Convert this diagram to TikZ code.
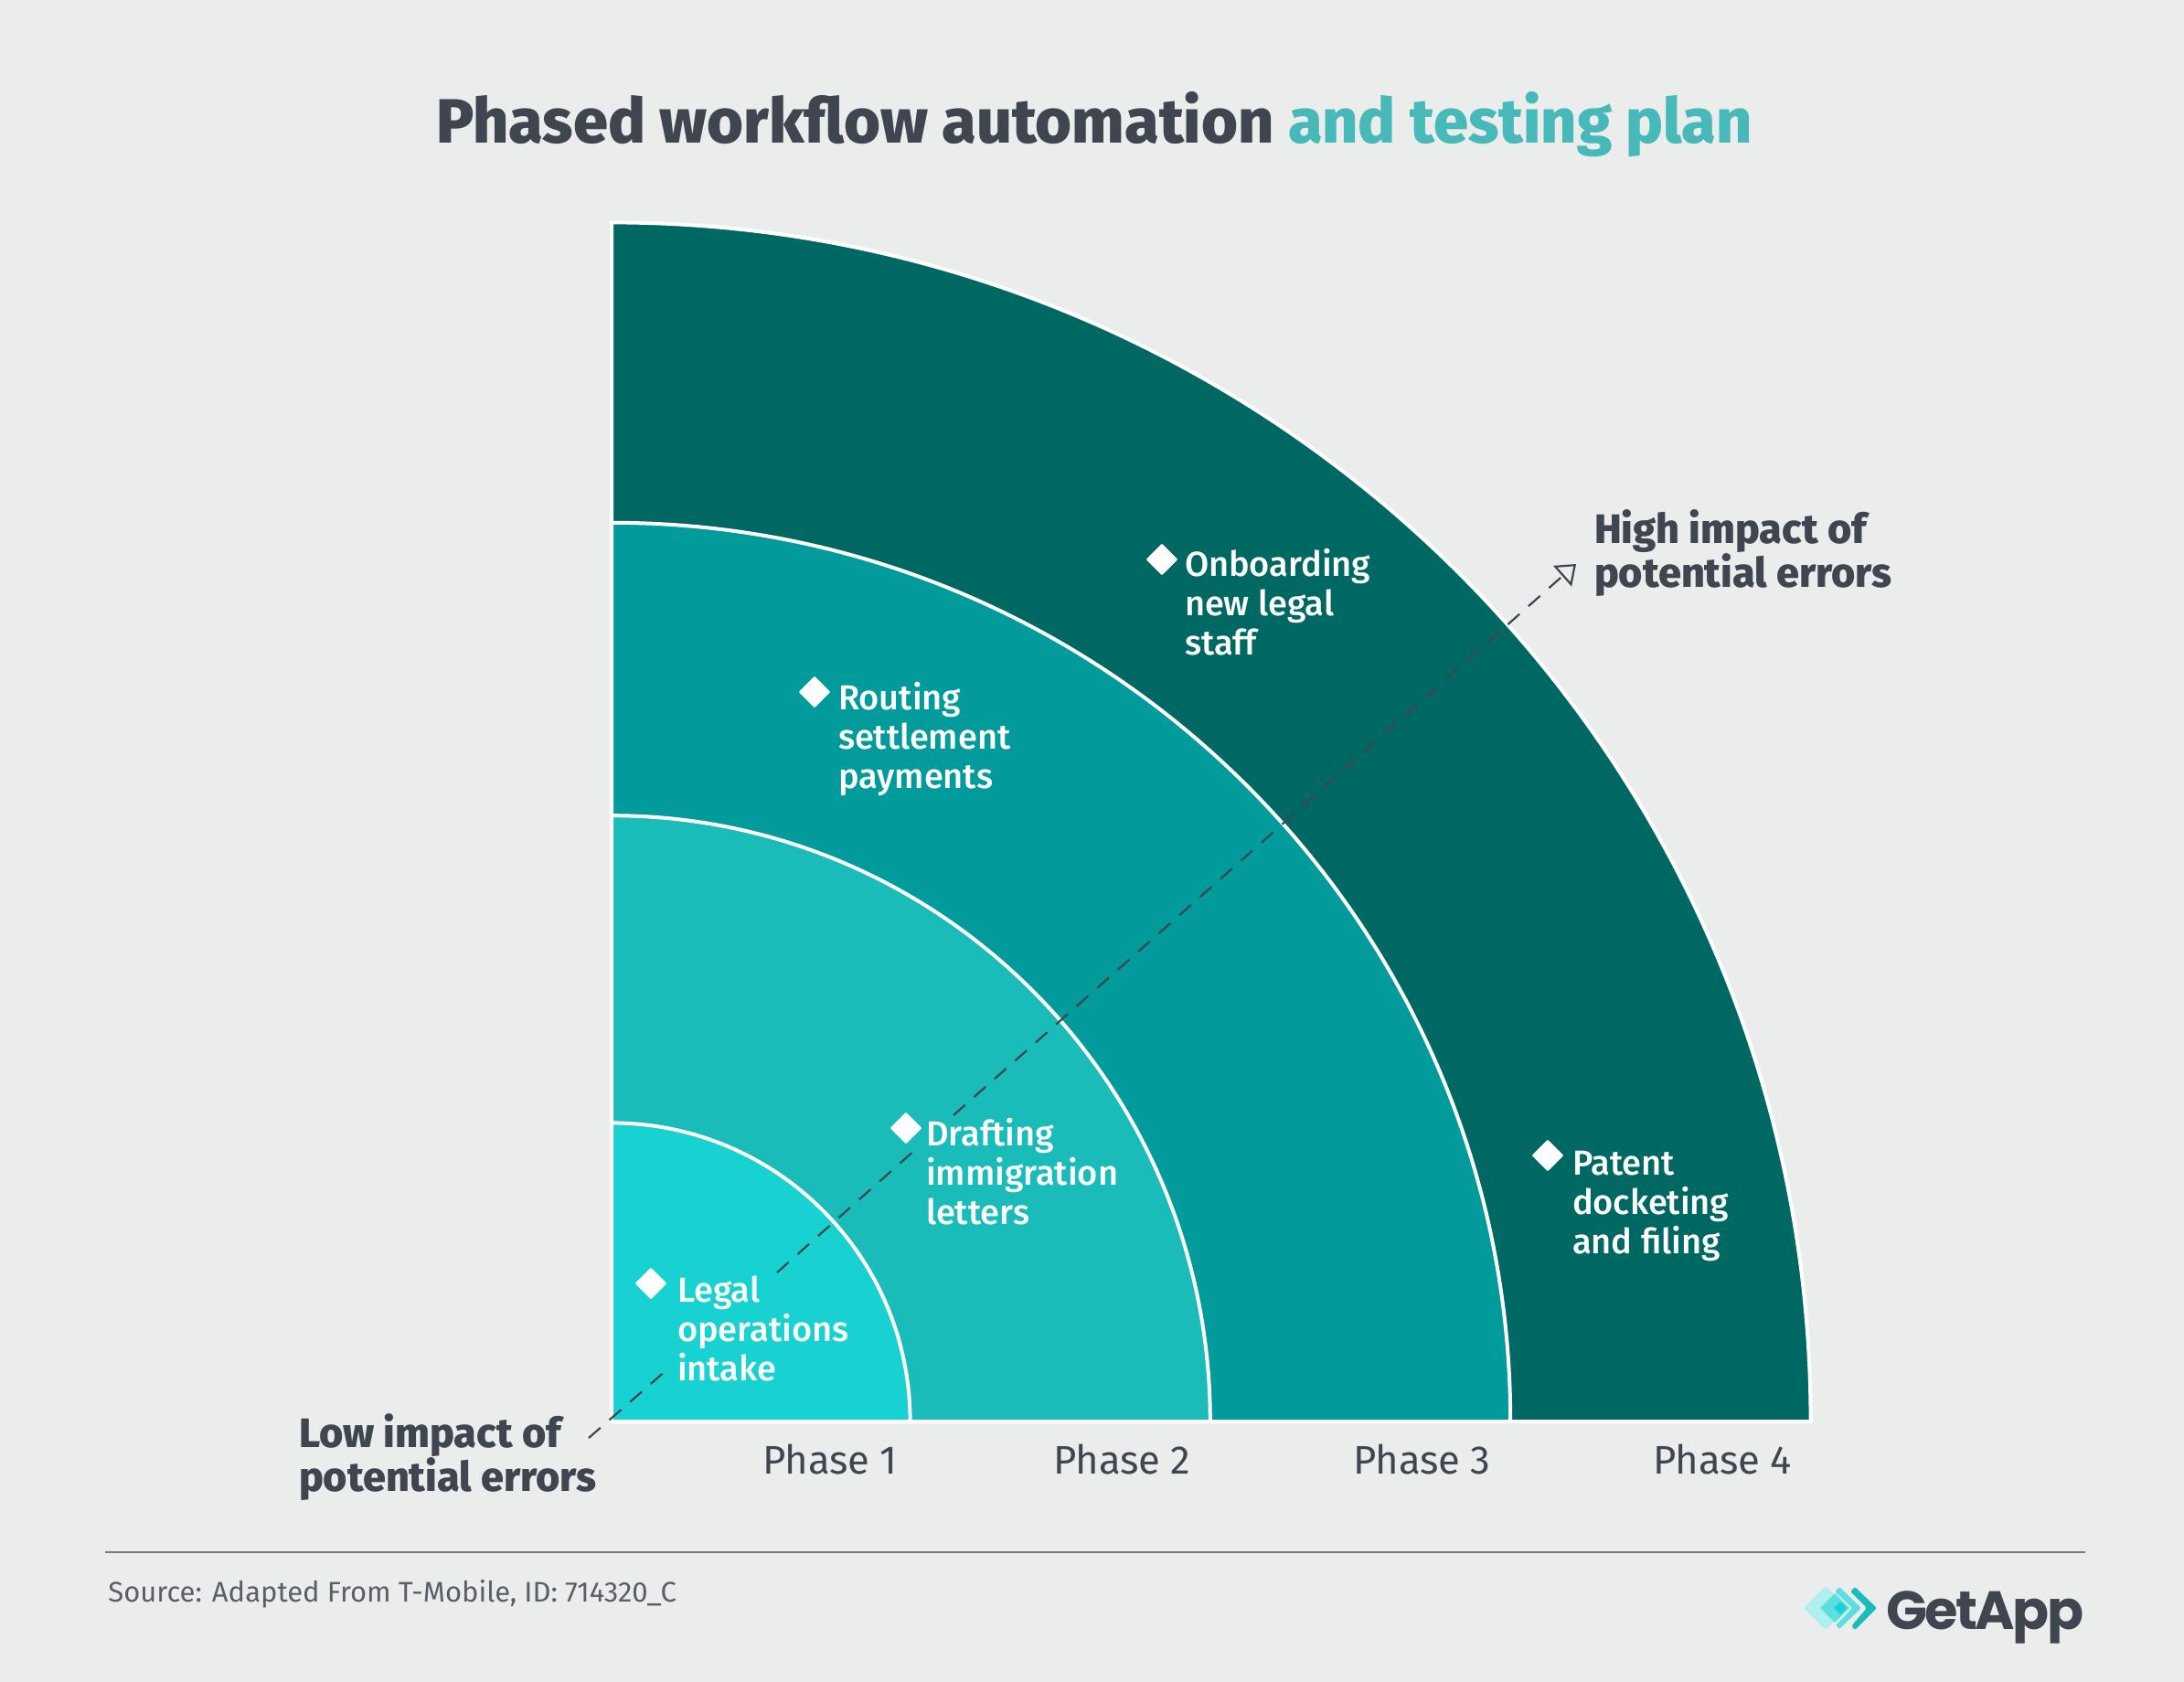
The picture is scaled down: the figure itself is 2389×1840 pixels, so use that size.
\documentclass[tikz,border=0pt]{standalone}
\usepackage{fontspec}
\usetikzlibrary{arrows.meta}
\setmainfont{Fira Sans}
\newfontfamily\logofont{Poppins}[LetterSpace=-4.5]
\newfontfamily\heavyfont{Fira Sans ExtraBold}
\newfontfamily\medfont{Fira Sans Medium}
\definecolor{bgc}{HTML}{EBEDED}
\definecolor{ink}{HTML}{3F4650}
\definecolor{tealt}{HTML}{47B9B8}
\definecolor{ca}{HTML}{18D1D1}
\definecolor{cb}{HTML}{1ABCB9}
\definecolor{cc}{HTML}{009B9A}
\definecolor{cd}{HTML}{006863}
\tikzset{
  x=0.5pt,y=-0.5pt,
  sector/.style={draw=white,line width=2pt,line join=miter},
  lab/.style={anchor=base west,inner sep=0pt,outer sep=0pt,text=white,align=left,font=\medfont\fontsize{19}{21.5}\selectfont},
  axislab/.style={anchor=base west,inner sep=0pt,outer sep=0pt,text=ink,align=left,font=\heavyfont\fontsize{22.5}{24}\selectfont},
  phaselab/.style={anchor=base west,inner sep=0pt,outer sep=0pt,text=ink,font=\fontsize{21.8}{24}\selectfont},
  mark diamond/.style={fill=white,draw=white,line width=1pt,line join=round},
  dashline/.style={draw=ink,line width=1.1pt,dash pattern=on 8.5pt off 6.5pt},
}
\begin{document}
\begin{tikzpicture}
\fill[bgc] (0,0) rectangle (2389,1840);
\useasboundingbox (0,0) rectangle (2389,1840);
% sectors
\coordinate (O) at (669,1555);
\draw[sector,fill=cd] (O) -- ++(655.8pt,0pt) arc[start angle=0,end angle=90,radius=655.8pt] -- cycle;
\draw[sector,fill=cc] (O) -- ++(491.6pt,0pt) arc[start angle=0,end angle=90,radius=491.6pt] -- cycle;
\draw[sector,fill=cb] (O) -- ++(327.4pt,0pt) arc[start angle=0,end angle=90,x radius=327.4pt,y radius=331.4pt] -- cycle;
\draw[sector,fill=ca] (O) -- ++(163.3pt,0pt) arc[start angle=0,end angle=90,radius=163.3pt] -- cycle;
% title
\node[anchor=base west,inner sep=0pt,text=ink,font=\heavyfont\fontsize{34.2}{36}\selectfont] (title) at (477,157) {Phased workflow automation \textcolor{tealt}{and testing plan}};
% dashed axis
\coordinate (lowend) at (644,1573);
\coordinate (gapa) at (730,1498);
\coordinate (gapb) at (850,1392);
\coordinate (gapc) at (1002,1257);
\coordinate (gapd) at (1043,1220);
\coordinate (highend) at (1724,617);
\draw[dashline] (lowend) -- (gapa);
\draw[dashline] (gapb) -- (gapc);
\draw[dashline,-{Triangle[open,length=10pt,width=15pt,line width=1.1pt]}] (gapd) -- (highend);
% markers
\foreach \n/\x/\y in {a/712/1404,b/991/1234,c/891/757,d/1271/612,e/1693/1264}{
  \draw[mark diamond] (\x,\y-16) -- (\x+16,\y) -- (\x,\y+16) -- (\x-16,\y) -- cycle;
}
% labels
\node[lab] (legal) at (741,1510) {Legal\\operations\\intake};
\node[lab] (draft) at (1013,1339) {Drafting\\immigration\\letters};
\node[lab] (route) at (917,862) {Routing\\settlement\\payments};
\node[lab] (onb) at (1296,716) {Onboarding\\new legal\\staff};
\node[lab] (pat) at (1720,1371) {Patent\\docketing\\and filing};
\node[axislab] (high) at (1744,642) {High impact of\\potential errors};
\node[axislab] (low) at (327,1631) {Low impact of\\potential errors};
\node[phaselab] (p1) at (834,1612) {Phase 1};
\node[phaselab] (p2) at (1152,1612) {Phase 2};
\node[phaselab] (p3) at (1480,1612) {Phase 3};
\node[phaselab] (p4) at (1808,1612) {Phase 4};
% footer
\coordinate (rulel) at (115,1698);
\coordinate (ruler) at (2281,1698);
\draw[color=ink!70!bgc,line width=1pt] (rulel) -- (ruler);
\node[anchor=base west,inner sep=0pt,text=ink!85!bgc,font=\fontsize{15.5}{18}\selectfont] (src) at (118,1752) {Source: Adapted From T-Mobile, ID: 714320\_C};
% logo
\fill[ca!35!white,rounded corners=1pt] (1997,1735) -- (2021,1759) -- (1997,1783) -- (1973,1759) -- cycle;
\fill[ca!70!white] (2007,1743) -- (2023,1759) -- (2007,1775) -- (1991,1759) -- cycle;
\fill[ca!70!white,rounded corners=1pt] (2012,1736) -- (2036,1759) -- (2012,1782) -- (2008,1778) -- (2026,1759) -- (2007,1741) -- cycle;
\fill[ca] (2013,1752) -- (2020,1759) -- (2013,1766) -- (2006,1759) -- cycle;
\fill[cb,rounded corners=1pt] (2029,1736) -- (2053,1759) -- (2029,1783) -- (2025,1779) -- (2042,1759) -- (2024,1741) -- cycle;
\node[anchor=base west,inner sep=0pt,text=ink,font=\logofont\fontsize{29.5}{34}\selectfont\bfseries] (logo) at (2063,1782) {GetApp};
\end{tikzpicture}
\end{document}
